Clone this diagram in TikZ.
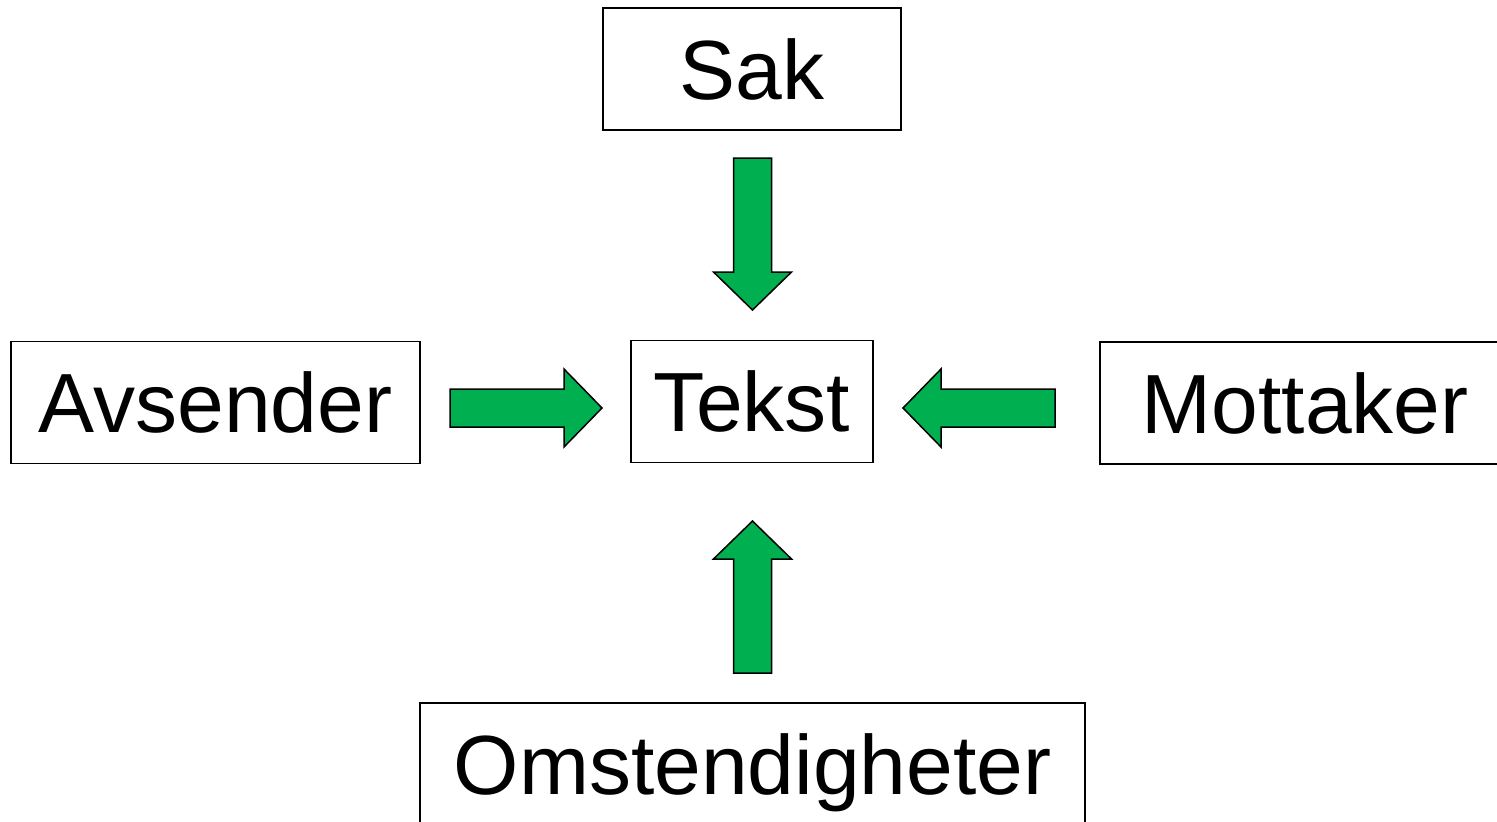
\documentclass[tikz,border=0pt]{standalone}
\usepackage{fontspec}
\setmainfont{Liberation Sans}
\definecolor{arrowgreen}{HTML}{00B050}
\begin{document}
\begin{tikzpicture}[x=1pt,y=-1pt,
  box/.style={draw=black, line width=1.3pt, inner sep=0pt, fill=white,
    font=\fontsize{84}{100}\selectfont, text height=60pt, text depth=0pt,
    minimum height=122pt},
  blockarrow/.pic={
    \draw[fill=arrowgreen, draw=black, line width=1.5pt, line join=miter]
      (-76,-19) -- (38,-19) -- (38,-39) -- (76,0) -- (38,39) -- (38,19) -- (-76,19) -- cycle;
  }]
\useasboundingbox (0,0) rectangle (1497,822);
\clip (0,0) rectangle (1497,822);
\fill[white] (0,0) rectangle (1497,822);
\node[box, minimum width=298pt] (sak) at (752,69) {Sak};
\node[box, minimum width=409pt] (avsender) at (215.5,402.5) {Avsender};
\node[box, minimum width=242pt] (tekst) at (752,401.5) {Tekst};
\node[box, minimum width=410pt] (mottaker) at (1305,403) {Mottaker};
\node[box, minimum width=665pt] (omst) at (752.5,764) {Omstendigheter};
\coordinate (aS) at (752.5,234);
\coordinate (aA) at (526,408);
\coordinate (aM) at (979,408);
\coordinate (aO) at (752.5,597);
\pic[rotate=-90] at (aS) {blockarrow};
\pic at (aA) {blockarrow};
\pic[rotate=180] at (aM) {blockarrow};
\pic[rotate=90] at (aO) {blockarrow};
\end{tikzpicture}
\end{document}
